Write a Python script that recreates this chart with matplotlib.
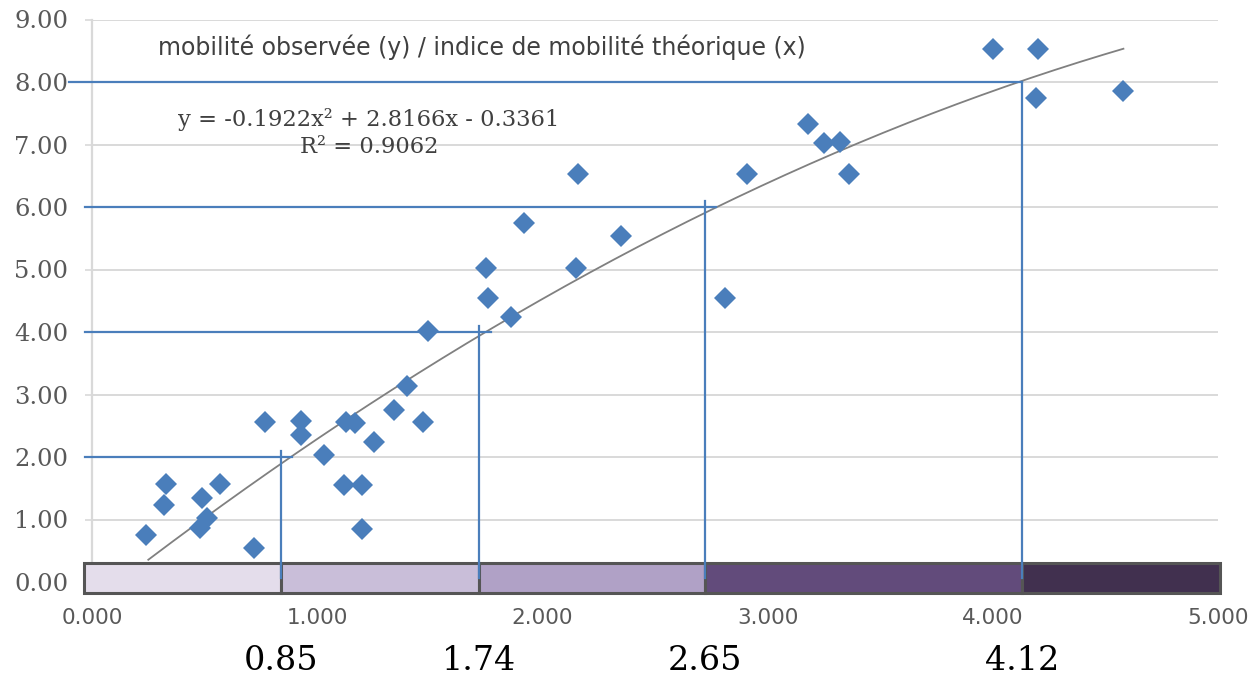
import matplotlib
matplotlib.use("Agg")
import matplotlib.pyplot as plt
import numpy as np
from matplotlib.patches import Rectangle

# ---------------- data ----------------
x_theo = [0.24, 0.33, 0.32, 0.49, 0.57, 0.51, 0.48, 0.72, 0.77, 0.93,
          0.93, 1.03, 1.12, 1.20, 1.20, 1.13, 1.17, 1.25, 1.34, 1.40,
          1.47, 1.49, 1.86, 1.76, 1.75, 1.92, 2.16, 2.15, 2.35, 2.81,
          2.91, 3.18, 3.25, 3.32, 3.36, 4.00, 4.20, 4.19, 4.58]
y_obs = [0.75, 1.57, 1.23, 1.35, 1.57, 1.02, 0.87, 0.55, 2.56, 2.57,
         2.35, 2.03, 1.55, 1.55, 0.85, 2.56, 2.55, 2.24, 2.75, 3.13,
         2.56, 4.02, 4.24, 4.55, 5.03, 5.74, 6.53, 5.03, 5.54, 4.55,
         6.53, 7.33, 7.03, 7.04, 6.53, 8.53, 8.53, 7.74, 7.85]

trend_coefs = [-0.1922, 2.8166, -0.3361]   # y = a x^2 + b x + c
trend_range = [0.25, 4.58]
r_squared = 0.9062

class_levels = [2, 4, 6, 8]                 # observed mobility levels
class_breaks = [0.84, 1.72, 2.72, 4.13]     # where the guide lines meet the bar
class_labels = ["0.85", "1.74", "2.65", "4.12"]
class_colors = ["#E4DDEB", "#C9BED9", "#B0A1C6", "#624B7B", "#41304F"]

x_ticks = [0, 1, 2, 3, 4, 5]
y_ticks = [0, 1, 2, 3, 4, 5, 6, 7, 8, 9]
title = "mobilité observée (y) / indice de mobilité théorique (x)"

# ---------------- figure ----------------
W, H = 1253, 680
fig = plt.figure(figsize=(W / 100, H / 100), dpi=100)
left_px, right_px, top_px, bottom_px = 92, 1218, 19.5, 582
ax = fig.add_axes([left_px / W, 1 - bottom_px / H,
                   (right_px - left_px) / W, (bottom_px - top_px) / H])
ax.set_xlim(0, 5)
ax.set_ylim(0, 9)

grid_c = "#D9D9D9"
blue = "#4A7EBB"
for s in ["top", "right", "bottom"]:
    ax.spines[s].set_visible(False)
ax.spines["left"].set_color(grid_c)
ax.spines["left"].set_linewidth(1.6)

ax.set_yticks(y_ticks)
ax.set_yticklabels([f"{v:.2f}" for v in y_ticks])
ax.set_xticks(x_ticks)
ax.set_xticklabels([f"{v:.3f}" for v in x_ticks])
ax.tick_params(axis="y", length=5, width=1.2, color=grid_c, pad=12,
               labelsize=17.5, labelcolor="#595959", labelfontfamily="DejaVu Serif")
ax.tick_params(axis="x", length=0, pad=19,
               labelsize=15.5, labelcolor="#595959", labelfontfamily="DejaVu Sans")
ax.grid(axis="y", color=grid_c, linewidth=1.4)
ax.set_axisbelow(True)

# trend line
xs = np.linspace(trend_range[0], trend_range[1], 200)
ax.plot(xs, np.polyval(trend_coefs, xs), color="#808080", lw=1.3, zorder=2)

# points
ax.plot(x_theo, y_obs, linestyle="none", marker="D", markersize=11,
        color="#4A7EBB", markeredgewidth=0, zorder=3)

# class bar
edges = [-0.036] + class_breaks + [5.01]
for i, col in enumerate(class_colors):
    ax.add_patch(Rectangle((edges[i], -0.18), edges[i + 1] - edges[i], 0.48,
                           facecolor=col, edgecolor="#555555", lw=2.2,
                           clip_on=False, zorder=4))

# guide lines
for lev, bx in zip(class_levels, class_breaks):
    x0 = -0.1 if lev == 8 else -0.03
    ax.plot([x0, bx + 0.05 if lev < 8 else bx], [lev, lev], color=blue,
            lw=1.6, clip_on=False, zorder=5)
    ax.plot([bx, bx], [0.06, lev + (0.1 if lev < 8 else 0.0)], color=blue,
            lw=1.6, clip_on=False, zorder=5)

# break labels under the axis
for bx, lab in zip(class_breaks, class_labels):
    ax.annotate(lab, xy=(bx, 0), xycoords=("data", "axes fraction"),
                xytext=(0, -79), textcoords="offset pixels",
                ha="center", va="center", family="DejaVu Serif",
                fontsize=24, color="black", annotation_clip=False)

# title and equation
ax.text(482 / W, 1 - 47 / H, title, transform=fig.transFigure,
        ha="center", va="center", fontsize=17, color="#404040",
        family="DejaVu Sans")
eq = (f"y = {trend_coefs[0]:.4f}x² + {trend_coefs[1]:.4f}x - {abs(trend_coefs[2]):.4f}\n"
      f"R² = {r_squared:.4f}")
ax.text(369 / W, 1 - 133 / H, eq, transform=fig.transFigure,
        ha="center", va="center", multialignment="center",
        fontsize=16.3, color="#404040", family="DejaVu Serif", linespacing=1.25)

fig.savefig("out.png", dpi=100)
